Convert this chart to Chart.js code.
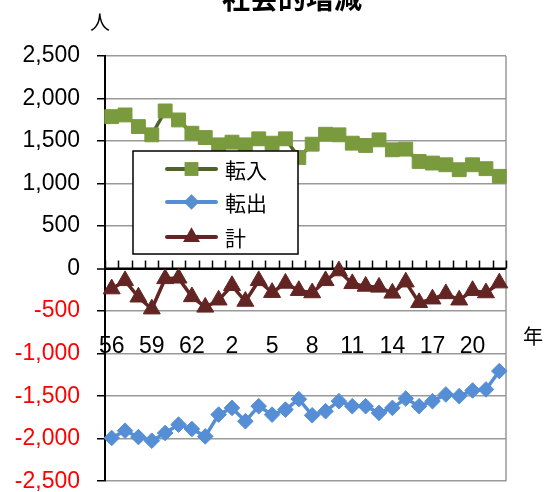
<!DOCTYPE html>
<html><head><meta charset="utf-8">
<script src="https://cdn.jsdelivr.net/npm/chart.js@4"></script>
<style>html,body{margin:0;padding:0;background:#fff;overflow:hidden}#wrap{width:544px;height:492px}</style>
</head><body><div id="wrap"><canvas id="c" width="544" height="492"></canvas></div>
<script>
const chartTitle = '社会的増減';
const yUnit = '人';
const xUnit = '年';
const years = ['56','57','58','59','60','61','62','63','1','2','3','4','5','6','7','8','9','10','11','12','13','14','15','16','17','18','19','20','21','22'];
const seriesNames = ['転入', '転出', '計'];
const inflow  = [1787,1807,1670,1573,1854,1748,1592,1541,1455,1487,1455,1526,1475,1526,1307,1463,1580,1573,1475,1448,1514,1397,1405,1260,1241,1221,1163,1221,1175,1085];
const outflow = [-1992,-1906,-1981,-2024,-1933,-1835,-1886,-1973,-1717,-1638,-1795,-1618,-1717,-1658,-1535,-1725,-1677,-1559,-1618,-1618,-1697,-1638,-1528,-1618,-1559,-1480,-1500,-1433,-1421,-1205];
const net     = [-239,-142,-335,-475,-119,-112,-331,-454,-370,-200,-385,-142,-281,-173,-258,-285,-142,-27,-177,-208,-219,-289,-158,-400,-358,-296,-370,-258,-285,-169];
const yMin = -2500, yMax = 2500, yStep = 500;
const labelEvery = 3;

const FONT = '"Liberation Sans", "Noto Sans CJK JP", sans-serif';
const CJK = '"Noto Sans CJK JP", "Liberation Sans", sans-serif';
Chart.defaults.font.family = FONT;

const styles = [
  {line:'#4F6228', fill:'#7A9A3E', point:'rect', r:9.8},
  {line:'#558ED5', fill:'#558ED5', point:'rectRot', r:7.8},
  {line:'#632523', fill:'#632523', point:'triangle', r:9.8}
];
const values = [inflow, outflow, net];

function marker(ctx, style, x, y, r, color) {
  ctx.fillStyle = color;
  ctx.beginPath();
  if (style === 'rect') {
    const s = r * Math.SQRT1_2;
    ctx.rect(x - s, y - s, 2 * s, 2 * s);
  } else if (style === 'rectRot') {
    ctx.moveTo(x - r, y); ctx.lineTo(x, y - r); ctx.lineTo(x + r, y); ctx.lineTo(x, y + r); ctx.closePath();
  } else {
    for (let k = 0; k < 3; k++) {
      const a = k * 2 * Math.PI / 3;
      const px = x + Math.sin(a) * r, py = y - Math.cos(a) * r;
      if (k === 0) ctx.moveTo(px, py); else ctx.lineTo(px, py);
    }
    ctx.closePath();
  }
  ctx.fill();
}

const deco = {
  id: 'deco',
  beforeDatasetsDraw(chart) {
    const {ctx, chartArea: a, scales: {x, y}} = chart;
    const y0 = y.getPixelForValue(0);
    ctx.save();
    ctx.strokeStyle = '#999'; ctx.lineWidth = 1.5;
    ctx.beginPath(); ctx.moveTo(a.right, a.top); ctx.lineTo(a.right, a.bottom); ctx.stroke();
    const n = years.length;
    const w = x.getPixelForValue(1) - x.getPixelForValue(0);
    ctx.strokeStyle = '#000'; ctx.lineWidth = 1.5;
    ctx.beginPath();
    for (let k = 0; k <= n; k++) {
      const px = Math.round(x.getPixelForValue(0) - w / 2 + k * w) + 0.5;
      ctx.moveTo(px, y0); ctx.lineTo(px, y0 - 8);
    }
    ctx.stroke();
    ctx.lineWidth = 2;
    ctx.beginPath(); ctx.moveTo(a.left, y0); ctx.lineTo(a.right, y0); ctx.stroke();
    ctx.restore();
  },
  afterDraw(chart) {
    const {ctx, scales: {x}} = chart;
    ctx.save();
    // category labels
    ctx.fillStyle = '#000';
    ctx.font = '23px ' + FONT;
    ctx.textAlign = 'center'; ctx.textBaseline = 'alphabetic';
    years.forEach((lab, i) => {
      if (i % labelEvery === 0) ctx.fillText(lab, x.getPixelForValue(i), 353);
    });
    // title & units
    ctx.font = 'bold 28px ' + CJK;
    ctx.textBaseline = 'middle';
    ctx.fillText(chartTitle, 292, -2);
    ctx.font = '20px ' + CJK;
    ctx.fillText(yUnit, 100, 22);
    ctx.fillText(xUnit, 533, 336);
    // legend
    const L = 133, T = 151, R = 298, B = 254;
    ctx.fillStyle = '#fff'; ctx.fillRect(L, T, R - L, B - T);
    ctx.strokeStyle = '#000'; ctx.lineWidth = 1.5; ctx.strokeRect(L, T, R - L, B - T);
    const rows = [169, 202, 237];
    ctx.font = '21px ' + CJK; ctx.textAlign = 'left';
    chart.data.datasets.forEach((ds, i) => {
      const st = styles[i], yy = rows[i];
      ctx.strokeStyle = st.line; ctx.lineWidth = 4; ctx.lineCap = 'round';
      ctx.beginPath(); ctx.moveTo(167, yy); ctx.lineTo(216, yy); ctx.stroke();
      marker(ctx, st.point, 191.5, yy, st.r, st.fill);
      ctx.fillStyle = '#000';
      ctx.fillText(ds.label, 225, yy + 1);
    });
    ctx.restore();
  }
};

new Chart(document.getElementById('c'), {
  type: 'line',
  data: {
    labels: years,
    datasets: values.map((v, i) => ({
      label: seriesNames[i],
      data: v,
      borderColor: styles[i].line,
      backgroundColor: styles[i].fill,
      pointBackgroundColor: styles[i].fill,
      pointBorderColor: styles[i].fill,
      pointBorderWidth: 1,
      pointStyle: styles[i].point,
      pointRadius: styles[i].r,
      borderWidth: 3.5,
      tension: 0,
      fill: false,
      clip: false
    }))
  },
  plugins: [deco],
  options: {
    responsive: false,
    animation: false,
    events: [],
    layout: {padding: {top: 56, bottom: 9, right: 38, left: 0}},
    plugins: {legend: {display: false}, title: {display: false}, tooltip: {enabled: false}},
    scales: {
      x: {type: 'category', offset: true, display: false},
      y: {
        min: yMin, max: yMax,
        afterFit(s) { s.width = 105; s.paddingTop = 0; s.paddingBottom = 0; },
        border: {color: '#000', width: 2},
        grid: {
          color: c => c.tick && c.tick.value === 0 ? '#000' : '#999',
          lineWidth: c => c.tick && c.tick.value === 0 ? 2 : 1.5,
          tickColor: '#000', tickLength: 8, tickWidth: 1.5
        },
        ticks: {
          stepSize: yStep,
          padding: 17,
          font: {size: 23},
          color: c => c.tick.value < 0 ? '#FF0000' : '#000',
          callback: v => Number(v).toLocaleString('en-US')
        }
      }
    }
  }
});
</script>
</body></html>
